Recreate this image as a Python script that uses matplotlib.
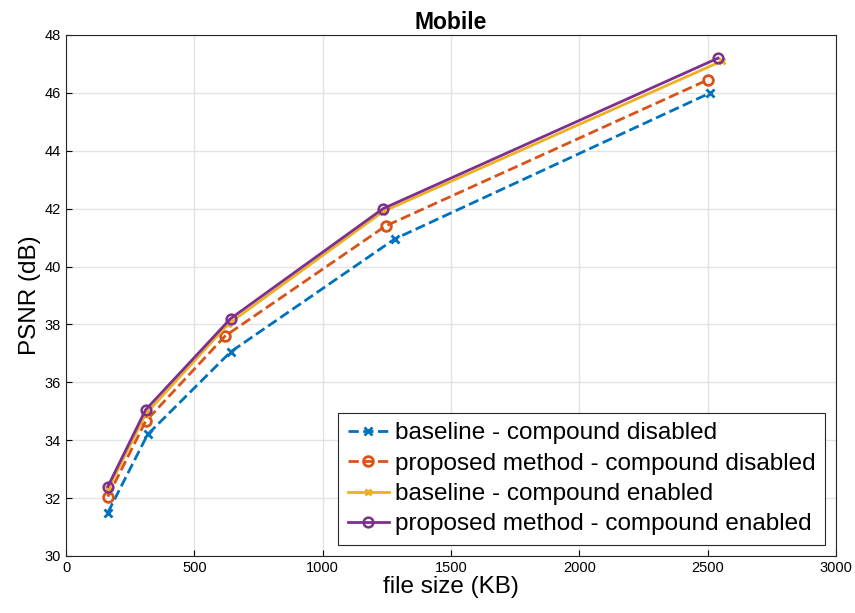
import matplotlib
matplotlib.use("Agg")
import matplotlib.pyplot as plt

plt.rcParams['font.family'] = ['Liberation Sans', 'DejaVu Sans']

# file size (KB) / PSNR (dB)
size_base_dis = [163, 318, 641, 1280, 2510]
psnr_base_dis = [31.5, 34.2, 37.05, 40.95, 46.0]

size_prop_dis = [163, 310, 620, 1245, 2500]
psnr_prop_dis = [32.05, 34.65, 37.6, 41.4, 46.45]

size_base_en = [163, 310, 630, 1235, 2555]
psnr_base_en = [32.3, 34.9, 38.0, 41.9, 47.1]

size_prop_en = [163, 310, 641, 1235, 2540]
psnr_prop_en = [32.4, 35.05, 38.2, 42.0, 47.2]

labels = ['baseline - compound disabled',
          'proposed method - compound disabled',
          'baseline - compound enabled',
          'proposed method - compound enabled']

c_blue = (0.0, 0.447, 0.741)
c_orange = (0.85, 0.325, 0.098)
c_yellow = (0.929, 0.694, 0.125)
c_purple = (0.494, 0.184, 0.556)

fig = plt.figure(figsize=(8.55, 6.13), dpi=100)
ax = fig.add_axes([0.0772, 0.093, 0.9008, 0.850])

ax.plot(size_base_dis, psnr_base_dis, '--x', color=c_blue, lw=2, ms=6, mew=2, label=labels[0])
ax.plot(size_prop_dis, psnr_prop_dis, '--o', color=c_orange, lw=2, ms=7, mew=2,
        mfc='none', label=labels[1])
ax.plot(size_base_en, psnr_base_en, '-x', color=c_yellow, lw=2, ms=5, mew=2, label=labels[2])
ax.plot(size_prop_en, psnr_prop_en, '-o', color=c_purple, lw=2, ms=7, mew=1.8,
        mfc='none', label=labels[3])

ax.set_xlim(0, 3000)
ax.set_ylim(30, 48)
ax.set_xticks(range(0, 3001, 500))
ax.set_yticks(range(30, 49, 2))
ax.grid(True, color='#e3e3e3', lw=1)
ax.set_axisbelow(True)
ax.tick_params(direction='in', labelsize=10.5, length=4, top=False, right=False)
for s in ax.spines.values():
    s.set_color('#262626')
    s.set_linewidth(0.8)

ax.set_xlabel('file size (KB)', fontsize=17.5, labelpad=1)
ax.set_ylabel('PSNR (dB)', fontsize=17.5, labelpad=3)
ax.set_title('Mobile', fontsize=16.5, fontweight='bold', pad=4)

leg = ax.legend(loc='lower right', fontsize=17.5, frameon=True, fancybox=False,
                edgecolor='#262626', framealpha=1, borderpad=0.4,
                labelspacing=0.34, handlelength=1.7, handletextpad=0.25,
                borderaxespad=0.45)
leg.get_frame().set_linewidth(0.8)

fig.savefig('out.png', dpi=100)
